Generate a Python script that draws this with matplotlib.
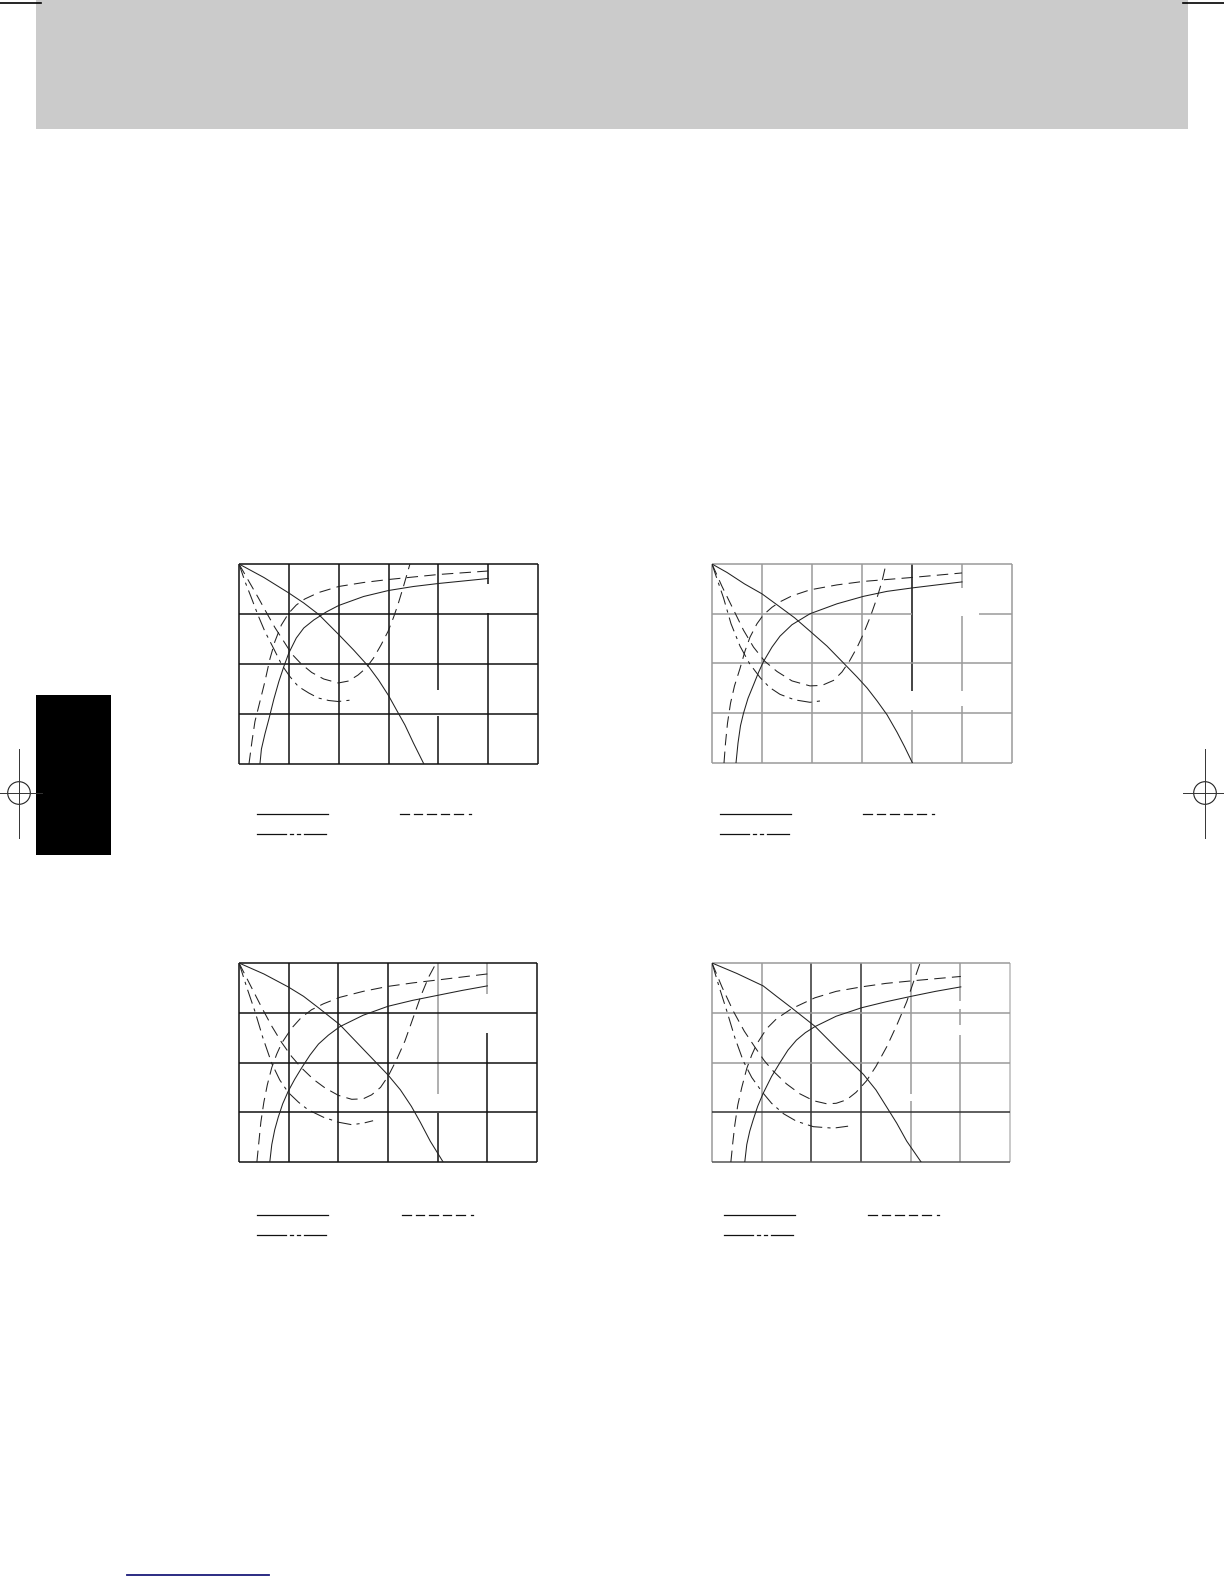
import matplotlib
matplotlib.use("Agg")
import matplotlib.pyplot as plt
from matplotlib.patches import Rectangle, Circle

W, H = 1224, 1584

# ---- curve data (grid units: 6 x 4 cells) ----
# chart 1 (top left)
p1_head_x = [0, 0.5, 1.0, 1.3, 1.6, 2.0, 2.3, 2.6, 2.8, 3.0, 3.15, 3.33, 3.5, 3.71]
p1_head_y = [4, 3.73, 3.42, 3.22, 2.99, 2.59, 2.28, 1.95, 1.68, 1.37, 1.1, 0.78, 0.42, 0]
p1_eff_x = [0.42, 0.45, 0.52, 0.6, 0.7, 0.8, 0.9, 1.0, 1.15, 1.3, 1.5, 1.75, 2.0, 2.5, 3.0, 3.5, 4.0, 4.5, 5.0]
p1_eff_y = [0, 0.3, 0.6, 0.9, 1.3, 1.65, 1.95, 2.22, 2.52, 2.72, 2.88, 3.04, 3.17, 3.35, 3.47, 3.55, 3.61, 3.66, 3.71]
p1_pow_x = [0.2, 0.26, 0.32, 0.42, 0.52, 0.62, 0.72, 0.85, 1.0, 1.15, 1.32, 1.6, 2.0, 2.5, 3.0, 4.0, 5.0]
p1_pow_y = [0, 0.45, 0.85, 1.25, 1.65, 2.1, 2.45, 2.78, 3.02, 3.18, 3.3, 3.43, 3.55, 3.63, 3.69, 3.79, 3.86]
p1_npsh_x = [0, 0.2, 0.39, 0.55, 0.72, 0.9, 1.06, 1.25, 1.46, 1.7, 1.99, 2.2, 2.39, 2.55, 2.7, 2.85, 2.99, 3.1, 3.19, 3.3, 3.43]
p1_npsh_y = [4, 3.65, 3.32, 3.03, 2.73, 2.45, 2.2, 2.0, 1.83, 1.7, 1.62, 1.66, 1.78, 1.92, 2.12, 2.38, 2.65, 2.93, 3.19, 3.55, 4.0]
p1_aux_x = [0, 0.12, 0.25, 0.38, 0.52, 0.7, 0.86, 1.02, 1.19, 1.4, 1.59, 1.8, 1.99, 2.26]
p1_aux_y = [4, 3.65, 3.32, 2.98, 2.65, 2.3, 1.98, 1.75, 1.55, 1.42, 1.32, 1.27, 1.25, 1.28]

# chart 2 (top right)
p2_head_x = [0, 0.3, 0.65, 1.0, 1.3, 1.65, 1.96, 2.3, 2.63, 2.9, 3.1, 3.3, 3.5, 3.7, 3.85, 4.01]
p2_head_y = [4, 3.83, 3.6, 3.4, 3.18, 2.92, 2.65, 2.35, 2.01, 1.73, 1.51, 1.25, 0.97, 0.62, 0.33, 0]
p2_eff_x = [0.48, 0.52, 0.57, 0.63, 0.72, 0.83, 0.93, 1.03, 1.2, 1.36, 1.6, 1.96, 2.5, 3.03, 3.5, 4.01, 4.5, 5.0]
p2_eff_y = [0, 0.4, 0.75, 1.0, 1.3, 1.57, 1.82, 2.04, 2.33, 2.55, 2.78, 3.0, 3.2, 3.35, 3.45, 3.52, 3.58, 3.64]
p2_pow_x = [0.24, 0.27, 0.31, 0.37, 0.45, 0.56, 0.66, 0.76, 0.9, 1.03, 1.2, 1.36, 1.6, 1.96, 2.5, 3.03, 4.01, 5.0]
p2_pow_y = [0, 0.4, 0.8, 1.2, 1.55, 1.9, 2.25, 2.53, 2.8, 2.98, 3.13, 3.24, 3.36, 3.48, 3.58, 3.65, 3.73, 3.82]
p2_npsh_x = [0, 0.2, 0.43, 0.63, 0.83, 1.05, 1.3, 1.6, 1.96, 2.2, 2.43, 2.6, 2.75, 2.9, 3.03, 3.17, 3.3, 3.4, 3.48]
p2_npsh_y = [4, 3.55, 3.08, 2.67, 2.33, 2.05, 1.84, 1.65, 1.55, 1.56, 1.66, 1.83, 2.05, 2.32, 2.6, 2.95, 3.32, 3.65, 4.0]
p2_aux_x = [0, 0.1, 0.23, 0.38, 0.56, 0.75, 0.96, 1.15, 1.36, 1.65, 1.96, 2.26]
p2_aux_y = [4, 3.7, 3.32, 2.8, 2.35, 2.0, 1.72, 1.52, 1.38, 1.27, 1.22, 1.26]

# chart 3 (bottom left)
p3_head_x = [0, 0.5, 0.99, 1.3, 1.6, 2.03, 2.5, 3.0, 3.25, 3.47, 3.65, 3.85, 4.11]
p3_head_y = [4, 3.78, 3.52, 3.33, 3.1, 2.76, 2.27, 1.75, 1.45, 1.12, 0.8, 0.42, 0]
p3_eff_x = [0.62, 0.66, 0.72, 0.79, 0.88, 0.99, 1.12, 1.26, 1.43, 1.6, 1.8, 2.03, 2.5, 3.0, 3.5, 4.0, 4.5, 5.0]
p3_eff_y = [0, 0.35, 0.65, 0.9, 1.17, 1.42, 1.66, 1.89, 2.15, 2.37, 2.55, 2.72, 2.95, 3.13, 3.25, 3.35, 3.45, 3.54]
p3_pow_x = [0.36, 0.4, 0.44, 0.5, 0.57, 0.66, 0.76, 0.86, 1.06, 1.25, 1.46, 1.7, 2.03, 2.5, 3.0, 3.5, 4.01, 5.0]
p3_pow_y = [0, 0.4, 0.8, 1.2, 1.55, 1.9, 2.17, 2.39, 2.69, 2.9, 3.06, 3.18, 3.31, 3.43, 3.53, 3.6, 3.66, 3.78]
p3_npsh_x = [0, 0.23, 0.46, 0.66, 0.86, 1.06, 1.26, 1.5, 1.73, 2.0, 2.27, 2.5, 2.67, 2.85, 3.0, 3.17, 3.34, 3.5, 3.67, 3.82, 3.97]
p3_npsh_y = [4, 3.55, 3.1, 2.73, 2.4, 2.12, 1.89, 1.66, 1.49, 1.34, 1.26, 1.27, 1.35, 1.5, 1.72, 2.05, 2.43, 2.88, 3.36, 3.72, 4.0]
p3_aux_x = [0, 0.16, 0.32, 0.48, 0.66, 0.82, 0.99, 1.2, 1.39, 1.7, 2.0, 2.27, 2.5, 2.7]
p3_aux_y = [4, 3.5, 3.03, 2.5, 1.98, 1.65, 1.4, 1.2, 1.05, 0.9, 0.8, 0.75, 0.78, 0.83]

# chart 4 (bottom right)
p4_head_x = [0, 0.5, 1.03, 1.3, 1.6, 2.07, 2.58, 3.05, 3.3, 3.52, 3.72, 3.92, 4.21]
p4_head_y = [4, 3.79, 3.54, 3.33, 3.1, 2.73, 2.22, 1.76, 1.45, 1.1, 0.78, 0.42, 0]
p4_eff_x = [0.66, 0.7, 0.76, 0.83, 0.92, 1.03, 1.2, 1.37, 1.53, 1.7, 1.88, 2.07, 2.5, 3.01, 3.5, 4.01, 4.5, 5.01]
p4_eff_y = [0, 0.35, 0.62, 0.85, 1.12, 1.38, 1.72, 2.0, 2.25, 2.45, 2.6, 2.72, 2.93, 3.1, 3.22, 3.33, 3.43, 3.52]
p4_pow_x = [0.38, 0.42, 0.46, 0.52, 0.6, 0.7, 0.8, 0.9, 1.1, 1.3, 1.6, 2.07, 2.5, 3.01, 3.5, 4.01, 5.01]
p4_pow_y = [0, 0.4, 0.75, 1.15, 1.5, 1.88, 2.15, 2.37, 2.68, 2.88, 3.08, 3.3, 3.43, 3.52, 3.59, 3.64, 3.73]
p4_npsh_x = [0, 0.2, 0.43, 0.65, 0.87, 1.05, 1.23, 1.5, 1.77, 2.05, 2.31, 2.5, 2.71, 2.9, 3.11, 3.3, 3.52, 3.72, 3.92, 4.05, 4.19]
p4_npsh_y = [4, 3.52, 3.03, 2.63, 2.3, 2.04, 1.83, 1.57, 1.37, 1.23, 1.17, 1.18, 1.25, 1.4, 1.63, 1.92, 2.32, 2.75, 3.22, 3.6, 4.0]
p4_aux_x = [0, 0.15, 0.3, 0.46, 0.63, 0.8, 1.0, 1.2, 1.44, 1.7, 2.04, 2.44, 2.74]
p4_aux_y = [4, 3.5, 3.03, 2.5, 2.03, 1.7, 1.42, 1.18, 0.97, 0.82, 0.71, 0.68, 0.72]

# ---- layout (pixels) ----
boxes = [(239, 564, 538, 764), (712, 564, 1012, 763),
         (239, 963, 537, 1162), (712, 963, 1010, 1162)]
legend_x = [(257, 400), (720, 863), (257, 402), (724, 868)]
legend_y = [814, 814, 1215, 1215]

K = '#111111'
G = '#9a9a9a'
# colours of vertical lines x=0..6 and horizontal lines y=0..4
vcols = [[K] * 7, [G] * 7, [K] * 7,
         [G, G, '#333333', '#333333', G, G, '#bbbbbb']]
hcols = [[K] * 5, [G] * 5, [K] * 5,
         ['#555555', '#333333', G, G, G]]
# gaps left where labels were: (kind, position, from, to, colour above gap)
gaps = [
    [('v', 4, 0.96, 1.48, None), ('v', 5, 3.02, 3.6, None)],
    [('h', 3, 4.0, 5.33, None), ('v', 4, 1.07, 1.44, K), ('v', 5, 2.95, 3.52, None),
     ('v', 5, 1.14, 1.44, None)],
    [('v', 4, 0.98, 1.37, G), ('v', 5, 2.59, 3.38, G)],
    [('v', 4, 1.22, 1.36, None), ('v', 5, 3.07, 3.24, None), ('v', 5, 2.56, 2.76, None)],
]

curves = [
    [(p1_head_x, p1_head_y), (p1_eff_x, p1_eff_y), (p1_pow_x, p1_pow_y), (p1_npsh_x, p1_npsh_y), (p1_aux_x, p1_aux_y)],
    [(p2_head_x, p2_head_y), (p2_eff_x, p2_eff_y), (p2_pow_x, p2_pow_y), (p2_npsh_x, p2_npsh_y), (p2_aux_x, p2_aux_y)],
    [(p3_head_x, p3_head_y), (p3_eff_x, p3_eff_y), (p3_pow_x, p3_pow_y), (p3_npsh_x, p3_npsh_y), (p3_aux_x, p3_aux_y)],
    [(p4_head_x, p4_head_y), (p4_eff_x, p4_eff_y), (p4_pow_x, p4_pow_y), (p4_npsh_x, p4_npsh_y), (p4_aux_x, p4_aux_y)],
]
styles = [dict(ls='-'), dict(ls='-'), dict(dashes=(11, 6)), dict(dashes=(11, 6)),
          dict(dashes=(14, 5, 3, 5))]

fig = plt.figure(figsize=(W / 100, H / 100), dpi=100)
fig.patch.set_facecolor('white')

# page decorations
page = fig.add_axes([0, 0, 1, 1])
page.set_xlim(0, W)
page.set_ylim(H, 0)
page.axis('off')
page.add_patch(Rectangle((36, 0), 1152, 129, color='#cbcbcb', lw=0))
page.plot([0, 41], [2.7, 2.7], color='k', lw=1.2)
page.plot([1183, 1224], [2.7, 2.7], color='k', lw=1.2)
page.add_patch(Rectangle((36, 695), 75, 160, color='black', lw=0))
for cx in (19, 1205):
    page.add_patch(Circle((cx, 793), 11.3, fill=False, ec='#222222', lw=0.8))
    page.plot([cx, cx], [749, 838], color='#333333', lw=0.7)
page.plot([0, 42], [793, 793], color='#333333', lw=0.7)
page.plot([1183, 1224], [793, 793], color='#333333', lw=0.7)
page.plot([127, 269], [1575, 1575], color='#1a1a7a', lw=1.3)

# legend samples (labels are blank in the source)
for (xs, xd), ly in zip(legend_x, legend_y):
    page.plot([xs, xs + 71], [ly, ly], color=K, lw=0.9)
    for k in range(5):
        page.plot([xd + k * 13.5, xd + k * 13.5 + 8.5], [ly, ly], color=K, lw=0.9)
    page.plot([xd + 69, xd + 71], [ly, ly], color=K, lw=0.9)
    ly2 = ly + 20
    page.plot([xs, xs + 29], [ly2, ly2], color=K, lw=0.9)
    page.plot([xs + 33, xs + 36], [ly2, ly2], color=K, lw=0.9)
    page.plot([xs + 40, xs + 43], [ly2, ly2], color=K, lw=0.9)
    page.plot([xs + 47, xs + 69], [ly2, ly2], color=K, lw=0.9)

for i, (x0, y0, x1, y1) in enumerate(boxes):
    ax = fig.add_axes([x0 / W, 1 - y1 / H, (x1 - x0) / W, (y1 - y0) / H])
    ax.set_xlim(0, 6)
    ax.set_ylim(0, 4)
    ax.axis('off')
    # grid with the label gaps
    for kind, n, cols in (('v', 7, vcols[i]), ('h', 5, hcols[i])):
        for k in range(n):
            hi = 4.0 if kind == 'v' else 6.0
            cuts = sorted([g for g in gaps[i] if g[0] == kind and g[1] == k],
                          key=lambda g: g[2])
            segs = []
            start = 0.0
            for g in cuts:
                segs.append((start, g[2], cols[k]))
                start = g[3]
            segs.append((start, hi, cols[k]))
            for g in cuts:
                if g[4] is not None:
                    segs = [(a, b, g[4]) if a >= g[3] else (a, b, c) for a, b, c in segs]
            for a, b, c in segs:
                if kind == 'v':
                    ax.plot([k, k], [a, b], color=c, lw=1.1, clip_on=False,
                            solid_capstyle='butt')
                else:
                    ax.plot([a, b], [k, k], color=c, lw=1.1, clip_on=False,
                            solid_capstyle='butt')
    for (cx, cy), st in zip(curves[i], styles):
        ax.plot(cx, cy, color='#222222', lw=0.75, **st)

fig.savefig('out.png', dpi=100, facecolor='white')
